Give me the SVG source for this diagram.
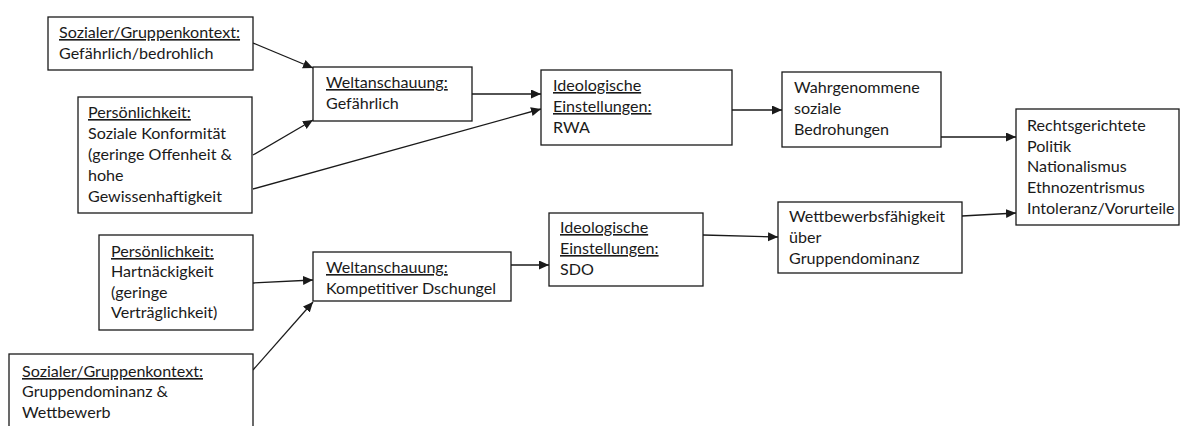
<svg xmlns="http://www.w3.org/2000/svg" width="1182" height="426" viewBox="0 0 1182 426">
<style>
.box{fill:#fff;stroke:#1a1a1a;stroke-width:1.3}
.t{font-family:Lato,"Liberation Sans",sans-serif;font-size:16.1px;fill:#1a1a1a}
.u{text-decoration:underline}
.c{stroke:#1a1a1a;stroke-width:1.3;fill:none;marker-end:url(#ah)}
</style>
<defs>
<marker id="ah" markerUnits="userSpaceOnUse" markerWidth="12" markerHeight="10" refX="10" refY="4.5" orient="auto">
<path d="M0,0 L10,4.5 L0,9 Z" fill="#1a1a1a"/>
</marker>
</defs>
<rect width="1182" height="426" fill="#fff"/>
<g id="connectors">
<line class="c" x1="253" y1="43" x2="313" y2="68"/>
<line class="c" x1="253" y1="155" x2="313" y2="120"/>
<line class="c" x1="253" y1="189" x2="541" y2="109"/>
<line class="c" x1="472" y1="94" x2="541" y2="94"/>
<line class="c" x1="732" y1="110" x2="782" y2="110"/>
<line class="c" x1="941" y1="137" x2="1016" y2="137"/>
<line class="c" x1="253" y1="283" x2="313" y2="280"/>
<line class="c" x1="253" y1="370" x2="313" y2="302"/>
<line class="c" x1="511" y1="265" x2="549" y2="265"/>
<line class="c" x1="703" y1="235" x2="778" y2="237"/>
<line class="c" x1="962" y1="216" x2="1016" y2="213"/>
</g>
<g id="n1">
<rect class="box" x="48" y="17" width="205" height="53"/>
<text class="t" x="59" y="38"><tspan class="u">Sozialer/Gruppenkontext:</tspan><tspan x="59" y="59">Gefährlich/bedrohlich</tspan></text>
</g>
<g id="n2">
<rect class="box" x="78" y="97" width="174" height="116"/>
<text class="t" x="88" y="118"><tspan class="u">Persönlichkeit:</tspan><tspan x="88" y="139">Soziale Konformität</tspan><tspan x="88" y="160">(geringe Offenheit &amp;</tspan><tspan x="88" y="181">hohe</tspan><tspan x="88" y="202">Gewissenhaftigkeit</tspan></text>
</g>
<g id="n3">
<rect class="box" x="313" y="67" width="159" height="54"/>
<text class="t" x="326" y="88"><tspan class="u">Weltanschauung:</tspan><tspan x="326" y="109">Gefährlich</tspan></text>
</g>
<g id="n4">
<rect class="box" x="541" y="70" width="191" height="75"/>
<text class="t" x="553" y="91"><tspan class="u">Ideologische</tspan><tspan class="u" x="553" y="112">Einstellungen:</tspan><tspan x="553" y="133">RWA</tspan></text>
</g>
<g id="n5">
<rect class="box" x="782" y="72" width="159" height="75"/>
<text class="t" x="794" y="93">Wahrgenommene<tspan x="794" y="114">soziale</tspan><tspan x="794" y="135">Bedrohungen</tspan></text>
</g>
<g id="n6">
<rect class="box" x="1016" y="109" width="163" height="116"/>
<text class="t" x="1027" y="131">Rechtsgerichtete<tspan x="1027" y="152">Politik</tspan><tspan x="1027" y="172">Nationalismus</tspan><tspan x="1027" y="193">Ethnozentrismus</tspan><tspan x="1027" y="214">Intoleranz/Vorurteile</tspan></text>
</g>
<g id="n7">
<rect class="box" x="99" y="235" width="154" height="95"/>
<text class="t" x="111" y="257"><tspan class="u">Persönlichkeit:</tspan><tspan x="111" y="277">Hartnäckigkeit</tspan><tspan x="111" y="298">(geringe</tspan><tspan x="111" y="318">Verträglichkeit)</tspan></text>
</g>
<g id="n8">
<rect class="box" x="9" y="354" width="244" height="90"/>
<text class="t" x="22" y="377"><tspan class="u">Sozialer/Gruppenkontext:</tspan><tspan x="22" y="397">Gruppendominanz &amp;</tspan><tspan x="22" y="418">Wettbewerb</tspan></text>
</g>
<g id="n9">
<rect class="box" x="313" y="252" width="198" height="49"/>
<text class="t" x="326" y="273"><tspan class="u">Weltanschauung:</tspan><tspan x="326" y="294">Kompetitiver Dschungel</tspan></text>
</g>
<g id="n10">
<rect class="box" x="549" y="213" width="154" height="73"/>
<text class="t" x="560" y="233"><tspan class="u">Ideologische</tspan><tspan class="u" x="560" y="254">Einstellungen:</tspan><tspan x="560" y="275">SDO</tspan></text>
</g>
<g id="n11">
<rect class="box" x="778" y="202" width="184" height="71"/>
<text class="t" x="789" y="222">Wettbewerbsfähigkeit<tspan x="789" y="243">über</tspan><tspan x="789" y="264">Gruppendominanz</tspan></text>
</g>
</svg>
